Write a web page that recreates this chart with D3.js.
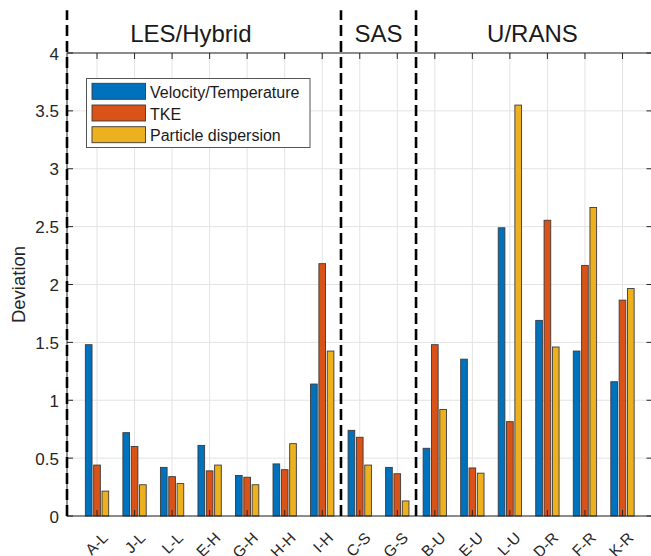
<!DOCTYPE html>
<html>
<head>
<meta charset="utf-8">
<script src="https://cdn.jsdelivr.net/npm/d3@7"></script>
<style>
  html, body { margin: 0; padding: 0; background: #fff; }
  svg { display: block; font-family: "Liberation Sans", Arial, sans-serif; }
</style>
</head>
<body>
<svg id="chart" width="651" height="556"></svg>
<script>
// ---- data ----
const categories = ["A-L","J-L","L-L","E-H","G-H","H-H","I-H","C-S","G-S","B-U","E-U","L-U","D-R","F-R","K-R"];
const seriesNames = ["Velocity/Temperature","TKE","Particle dispersion"];
const velocityTemperature = [1.48,0.72,0.42,0.61,0.35,0.45,1.14,0.74,0.42,0.585,1.355,2.49,1.69,1.425,1.16];
const tke                = [0.44,0.60,0.34,0.39,0.335,0.40,2.18,0.68,0.365,1.48,0.415,0.815,2.555,2.165,1.865];
const particleDispersion = [0.215,0.27,0.28,0.44,0.27,0.625,1.425,0.44,0.13,0.92,0.37,3.55,1.46,2.665,1.965];
const yTicks = [0,0.5,1,1.5,2,2.5,3,3.5,4];
const yTickLabels = ["0","0.5","1","1.5","2","2.5","3","3.5","4"];
const groupLabels = ["LES/Hybrid","SAS","U/RANS"];
const groupLabelPos = [3.5, 8.5, 12.6];
const dividerPos = [0.2, 7.5, 9.5];
const colors = ["#0072BD","#D95319","#EDB120"];

const seriesValues = [velocityTemperature, tke, particleDispersion];

const svg = d3.select("#chart");
const W = 651, H = 556;
const L = 67, R = 652.5, T = 53, B = 516;

const x = d3.scaleLinear().domain([0.2, 15.8]).range([L, R]);
const y = d3.scaleLinear().domain([0, 4]).range([B, T]);
const xSub = d3.scaleBand().domain(d3.range(3)).range([-0.333, 0.333]).paddingInner(0.2).paddingOuter(0.1);

svg.append("rect").attr("width", W).attr("height", H).attr("fill", "#fff");

// grid
const grid = svg.append("g");
grid.selectAll("line.gy").data(yTicks).join("line")
  .attr("x1", L).attr("x2", R).attr("y1", d => y(d)).attr("y2", d => y(d))
  .attr("stroke", "#e3e3e3").attr("stroke-width", 1);
grid.selectAll("line.gx").data(categories).join("line")
  .attr("x1", (d,i) => x(i+1)).attr("x2", (d,i) => x(i+1)).attr("y1", T).attr("y2", B)
  .attr("stroke", "#e3e3e3").attr("stroke-width", 1);

// bars
const rows = [];
categories.forEach((c, i) => seriesValues.forEach((vals, j) => rows.push({i, j, v: vals[i]})));
const bw = x(xSub.bandwidth()) - x(0);
svg.append("g").selectAll("rect").data(rows).join("rect")
  .attr("x", d => x(d.i + 1 + xSub(d.j)))
  .attr("y", d => y(d.v))
  .attr("width", bw)
  .attr("height", d => y(0) - y(d.v))
  .attr("fill", d => colors[d.j])
  .attr("stroke", "#3a3a3a").attr("stroke-width", 0.9);

// axes box and ticks
const ax = svg.append("g").attr("stroke", "#262626").attr("fill", "none");
ax.append("rect").attr("x", L).attr("y", T).attr("width", R - L).attr("height", B - T).attr("stroke-width", 1);
const tl = 6;
ax.selectAll("line.yl").data(yTicks).join("line")
  .attr("x1", L).attr("x2", L + tl).attr("y1", d => y(d)).attr("y2", d => y(d));
ax.selectAll("line.yr").data(yTicks).join("line")
  .attr("x1", R - tl).attr("x2", R).attr("y1", d => y(d)).attr("y2", d => y(d));
ax.selectAll("line.xb").data(categories).join("line")
  .attr("x1", (d,i) => x(i+1)).attr("x2", (d,i) => x(i+1)).attr("y1", B).attr("y2", B - tl);
ax.selectAll("line.xt").data(categories).join("line")
  .attr("x1", (d,i) => x(i+1)).attr("x2", (d,i) => x(i+1)).attr("y1", T).attr("y2", T + tl);

// y tick labels
svg.append("g").selectAll("text").data(yTicks).join("text")
  .attr("x", L - 8).attr("y", d => y(d) + 1)
  .attr("text-anchor", "end").attr("dominant-baseline", "central")
  .attr("font-size", 17).attr("fill", "#262626")
  .text((d,i) => yTickLabels[i]);

// x tick labels
svg.append("g").selectAll("text").data(categories).join("text")
  .attr("transform", (d,i) => `translate(${x(i+1) + 8},${B + 19}) rotate(-45)`)
  .attr("text-anchor", "end").attr("dominant-baseline", "central")
  .attr("font-size", 15.5).attr("fill", "#262626")
  .text(d => d);

// y label
svg.append("text")
  .attr("transform", `translate(18,${(T + B) / 2}) rotate(-90)`)
  .attr("text-anchor", "middle").attr("dominant-baseline", "central")
  .attr("font-size", 18.5).attr("fill", "#262626")
  .text("Deviation");

// dashed dividers
svg.append("g").selectAll("line").data(dividerPos).join("line")
  .attr("x1", d => x(d)).attr("x2", d => x(d))
  .attr("y1", y(0)).attr("y2", y(4.37))
  .attr("stroke", "#000").attr("stroke-width", 2.6).attr("stroke-dasharray", "11,5");

// group labels
svg.append("g").selectAll("text").data(groupLabels).join("text")
  .attr("x", (d,i) => x(groupLabelPos[i])).attr("y", 42)
  .attr("text-anchor", "middle").attr("font-size", 24).attr("fill", "#1a1a1a")
  .text(d => d);

// legend
const lg = svg.append("g");
lg.append("rect").attr("x", 86.5).attr("y", 78.5).attr("width", 223.5).attr("height", 69)
  .attr("fill", "#fff").attr("stroke", "#555").attr("stroke-width", 1);
seriesNames.forEach((name, j) => {
  const cy = 91.3 + j * 21.7;
  lg.append("rect").attr("x", 92).attr("y", cy - 8).attr("width", 53.5).attr("height", 16)
    .attr("fill", colors[j]).attr("stroke", "#3a3a3a").attr("stroke-width", 0.9);
  lg.append("text").attr("x", 150).attr("y", cy + 1).attr("dominant-baseline", "central")
    .attr("font-size", 16).attr("fill", "#1a1a1a").text(name);
});
</script>
</body>
</html>
